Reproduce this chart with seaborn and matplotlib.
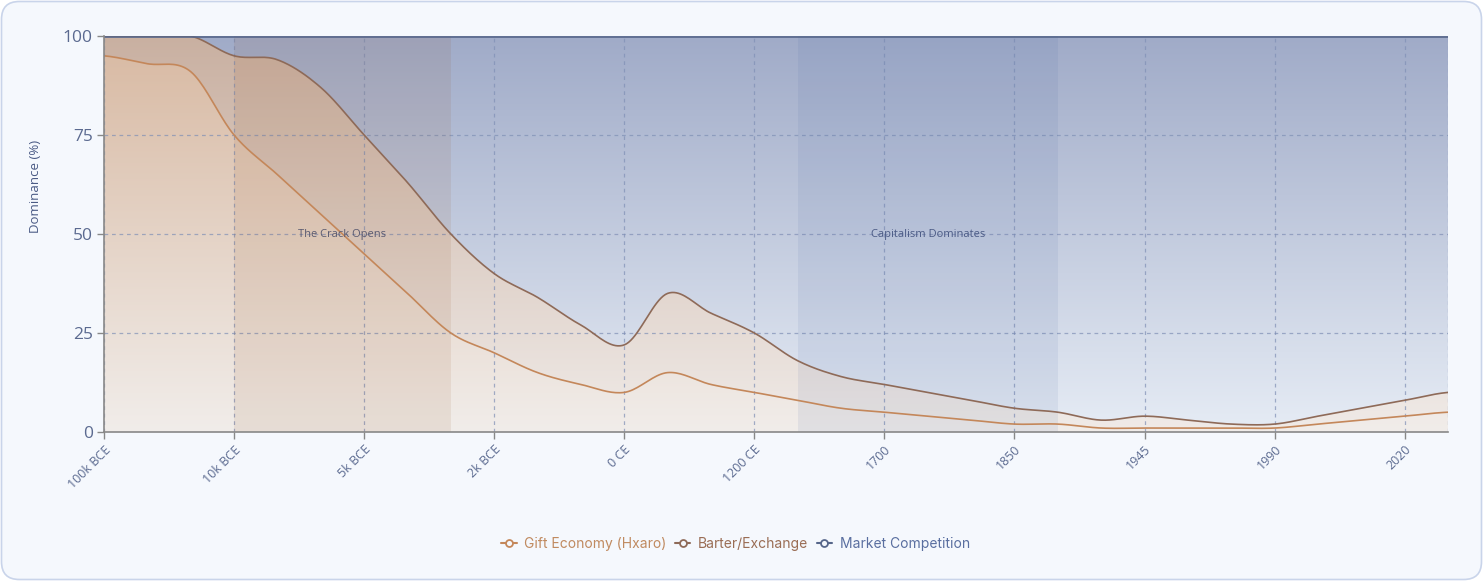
import numpy as np
import pandas as pd
import matplotlib
matplotlib.use("Agg")
import matplotlib.pyplot as plt
import seaborn as sns
from matplotlib.colors import LinearSegmentedColormap
from matplotlib.lines import Line2D
from matplotlib.patches import FancyBboxPatch

# ---------------- data ----------------
tick_positions = [0, 3, 6, 9, 12, 15, 18, 21, 24, 27, 30]
tick_labels = ["100k BCE", "10k BCE", "5k BCE", "2k BCE", "0 CE", "1200 CE",
               "1700", "1850", "1945", "1990", "2020"]
gift = [95, 93, 91, 75, 65, 55, 45, 35, 25, 20, 15, 12, 10, 15, 12, 10,
        8, 6, 5, 4, 3, 2, 2, 1, 1, 1, 1, 1, 2, 3, 4, 5]
barter = [5, 7, 9, 20, 29, 32, 30, 28, 25, 20, 19, 15, 12, 20, 18, 15,
          10, 8, 7, 6, 5, 4, 3, 2, 3, 2, 1, 1, 2, 3, 4, 5]
market = [0, 0, 0, 5, 6, 13, 25, 37, 50, 60, 66, 73, 78, 65, 70, 75,
          82, 86, 88, 90, 92, 94, 95, 97, 96, 97, 98, 98, 96, 94, 92, 90]
series_names = ["Gift Economy (Hxaro)", "Barter/Exchange", "Market Competition"]
bands = [(3, 8, "The Crack Opens"), (16, 22, "Capitalism Dominates")]

# ---------------- helpers ----------------
def smooth(y, n=20):
    """Catmull-Rom spline through evenly spaced points (visual smoothing only)."""
    y = np.asarray(y, float)
    p = np.concatenate([[y[0]], y, [y[-1]]])
    xs, ys = [], []
    for i in range(len(y) - 1):
        p0, p1, p2, p3 = p[i], p[i + 1], p[i + 2], p[i + 3]
        t = np.linspace(0, 1, n, endpoint=False)
        seg = 0.5 * ((2 * p1) + (-p0 + p2) * t + (2 * p0 - 5 * p1 + 4 * p2 - p3) * t ** 2
                     + (-p0 + 3 * p1 - 3 * p2 + p3) * t ** 3)
        xs.append(i + t)
        ys.append(seg)
    xs.append([len(y) - 1])
    ys.append([y[-1]])
    return np.concatenate(xs), np.concatenate(ys)

def grad_fill(ax, x, y1, y2, top, bot, z=1):
    poly = ax.fill_between(x, y1, y2, color="none", lw=0)
    path = poly.get_paths()[0]
    cmap = LinearSegmentedColormap.from_list("g", [bot, top])
    img = ax.imshow(np.linspace(0, 1, 256).reshape(-1, 1), cmap=cmap, aspect="auto",
                    extent=[0, len(gift) - 1, 0, 100], origin="lower", zorder=z,
                    interpolation="bicubic")
    img.set_clip_path(path, transform=ax.transData)

# ---------------- figure ----------------
sns.set_theme(style="white")
plt.rcParams["font.family"] = ["Open Sans", "DejaVu Sans"]

W, H = 1483, 581
fig = plt.figure(figsize=(W / 100, H / 100), dpi=100)
fig.patch.set_facecolor("white")
card = FancyBboxPatch((1.5 / W, 1.5 / H), (W - 3) / W, (H - 3) / H,
                      boxstyle="round,pad=0,rounding_size=0.012",
                      transform=fig.transFigure, facecolor="#f5f8fd",
                      edgecolor="#c9d4ea", lw=1.2, zorder=-10, mutation_aspect=W / H)
fig.patches.append(card)

ax = fig.add_axes([104 / W, 1 - 432 / H, (1448 - 104) / W, (432 - 36) / H])
ax.set_zorder(1)
ax.set_facecolor("#e8edf5")

n = len(gift)
cum1 = np.array(gift, float)
cum2 = cum1 + np.array(barter, float)
cum3 = cum2 + np.array(market, float)
xs, g_s = smooth(cum1)
_, b_s = smooth(cum2)
_, m_s = smooth(cum3)
b_s = np.clip(b_s, 0, 100)
g_s = np.clip(g_s, 0, 100)

grad_fill(ax, xs, 0, g_s, "#d8b9a2", "#f1edea")
grad_fill(ax, xs, g_s, b_s, "#c9b0a1", "#f0ebe8")
grad_fill(ax, xs, b_s, m_s, "#a0abc8", "#e6ecf5")

# bands
band_cols = [((139 / 255, 69 / 255, 19 / 255), 0.09), ((70 / 255, 100 / 255, 160 / 255), 0.09)]
for (x0, x1, lab), (c, a) in zip(bands, band_cols):
    ax.axvspan(x0, x1, color=c, alpha=a, lw=0, zorder=3)
    ax.text((x0 + x1) / 2, 50, lab, ha="center", va="center", fontsize=8,
            color="#5a5a70" if x0 < 10 else "#4a5a85", zorder=6)

# grid
for yv in [25, 50, 75]:
    ax.axhline(yv, color="#7f8fb5", lw=0.9, ls=(0, (3, 3)), alpha=0.7, zorder=2.5)
for xv in tick_positions + [n - 1]:
    ax.axvline(xv, color="#7f8fb5", lw=0.9, ls=(0, (3, 3)), alpha=0.7, zorder=2.5)

# lines
line_cols = ["#c4875a", "#8e6a58", "#56668a"]
df = pd.DataFrame({"x": np.concatenate([xs, xs, xs]),
                   "y": np.concatenate([g_s, b_s, np.minimum(m_s, 99.85)]),
                   "s": np.repeat(series_names, len(xs))})
sns.lineplot(data=df, x="x", y="y", hue="s", palette=dict(zip(series_names, line_cols)),
             lw=1.2, ax=ax, legend=False, zorder=5, sort=False, estimator=None)

ax.set_xlim(0, n - 1)
ax.set_ylim(0, 100)
ax.set_xticks(tick_positions)
ax.set_xticklabels(tick_labels, rotation=45, ha="right", rotation_mode="anchor",
                   fontsize=9, color="#5b6a90")
ax.set_yticks([0, 25, 50, 75, 100])
ax.set_yticklabels(["0", "25", "50", "75", "100"], fontsize=12.5, color="#5b6a90")
ax.tick_params(axis="x", length=5, width=1, color="#888888", pad=3, bottom=True)
ax.tick_params(axis="y", length=5, width=1, color="#888888", pad=3, left=True)
ax.set_xlabel("")
ax.set_ylabel("Dominance (%)", fontsize=9.5, color="#4a5a85")
ax.yaxis.set_label_coords(-0.0461, 0.62)
for s in ["top", "right"]:
    ax.spines[s].set_visible(False)
ax.spines["left"].set_color("#888888")
ax.spines["bottom"].set_color("#888888")
ax.spines["left"].set_linewidth(1.2)
ax.spines["bottom"].set_linewidth(1.2)
ax.spines["left"].set_zorder(7)
ax.spines["bottom"].set_zorder(7)

# legend
handles = [Line2D([0], [0], color=c, lw=1.5, marker="o", markersize=5,
                  markerfacecolor="#f5f8fd", markeredgewidth=1.3) for c in line_cols]
leg = fig.legend(handles, series_names, loc="center", bbox_to_anchor=(0.496, 0.064),
                 ncol=3, frameon=False, handlelength=1.1, handletextpad=0.55,
                 columnspacing=0.6, prop={"family": ["Inter", "DejaVu Sans"], "size": 10})
for t, c in zip(leg.get_texts(), ["#c08a60", "#9a6d55", "#5a6fa0"]):
    t.set_color(c)

fig.savefig("out.png", dpi=100, facecolor=fig.get_facecolor())
